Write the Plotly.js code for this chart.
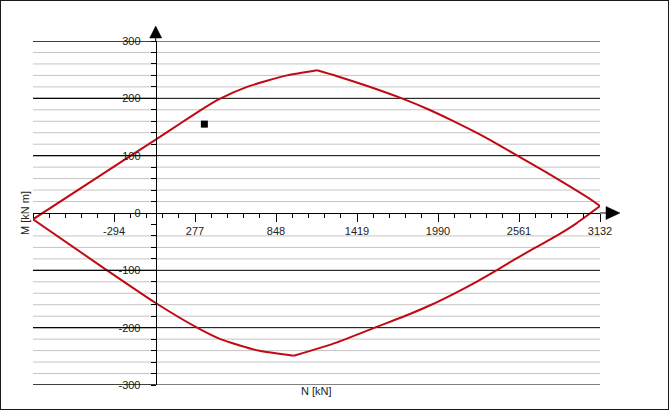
<!DOCTYPE html>
<html><head><meta charset="utf-8">
<script src="https://cdn.plot.ly/plotly-3.0.1.min.js"></script>
<style>
html,body{margin:0;padding:0;background:#fff;}
#chart{position:absolute;left:0;top:0;width:672px;height:411px;}
#frame{position:absolute;left:0;top:0;width:669px;height:410px;box-sizing:border-box;border:1px solid #1a1a1a;pointer-events:none;}
</style>
</head><body>
<div id="chart"></div><div id="frame"></div>
<script>
// ---- data ----
const xRange = [-865, 3132];
const xTickVals = [-294, 277, 848, 1419, 1990, 2561, 3132];
const xMinorStep = 114.2;
const yRange = [-300, 300];
const yTickVals = [-300, -200, -100, 0, 100, 200, 300];
const yMinorStep = 20;
const yHiddenMinor = [-20];

// interaction diagram, four smooth segments between the corner points
// upper-left: left tip -> top corner
const upperLeftN = [-865, -400, 0, 197, 315, 444, 644, 926, 1138];
const upperLeftM = [-11, 64, 128, 160, 179, 198, 220, 240, 249];
// upper-right: top corner -> right tip
const upperRightN = [1138, 1274, 1497, 1744, 1920, 2084, 2261, 2402, 2543, 2684, 2813, 2942, 3083, 3132];
const upperRightM = [249, 239, 221, 199, 181, 162, 140, 121, 101, 81, 62, 43, 21, 12];
// lower-right: right tip -> bottom corner
const lowerRightN = [3132, 2966, 2825, 2672, 2531, 2402, 2261, 2108, 1943, 1744, 1544, 1274, 973];
const lowerRightM = [12, -18, -40, -61, -81, -100, -120, -140, -160, -181, -200, -226, -249];
// lower-left: bottom corner -> left tip
const lowerLeftN = [973, 724, 456, 292, 0, -343, -865];
const lowerLeftM = [-249, -240, -220, -200, -157, -100, -11];
// load point
const loadN = [343];
const loadM = [155];

// ---- chart ----
const font = 'Liberation Sans, Arial, sans-serif';
const txt = '#222';
const red = '#c00a14';

const xZero = (0 - xRange[0]) / (xRange[1] - xRange[0]);
const yZero = (0 - yRange[0]) / (yRange[1] - yRange[0]);

const shapes = [];
for (let v = yRange[0]; v <= yRange[1]; v += yMinorStep) {
  const isMajor = yTickVals.indexOf(v) >= 0;
  if (v === 0) continue;
  if (!isMajor && yHiddenMinor.indexOf(v) >= 0) continue;
  shapes.push({type:'line', xref:'paper', yref:'y', x0:0, x1:1, y0:v, y1:v, layer:'below',
    line:{color: isMajor ? '#000' : '#c4c4c4', width:1}});
  if (isMajor) {
    shapes.push({type:'line', xref:'paper', yref:'y', x0:0, x1:xZero, y0:v, y1:v, layer:'above',
      line:{color:'#000', width:1}});
  }
}
// axis arrows
shapes.push({type:'path', xref:'paper', yref:'paper', xsizemode:'pixel', ysizemode:'pixel',
  xanchor:xZero, yanchor:1, path:'M 0,0 L 0,4', line:{color:'#000', width:1}});
shapes.push({type:'path', xref:'paper', yref:'paper', xsizemode:'pixel', ysizemode:'pixel',
  xanchor:xZero, yanchor:1, path:'M -6,3 L 6,3 L 0,15 Z', fillcolor:'#000', line:{color:'#000', width:0.5}});
shapes.push({type:'path', xref:'paper', yref:'paper', xsizemode:'pixel', ysizemode:'pixel',
  xanchor:1, yanchor:yZero, path:'M 0,0 L 7,0', line:{color:'#000', width:1}});
shapes.push({type:'path', xref:'paper', yref:'paper', xsizemode:'pixel', ysizemode:'pixel',
  xanchor:1, yanchor:yZero, path:'M 6,6.5 L 6,-6.5 L 20,0 Z', fillcolor:'#000', line:{color:'#000', width:0.5}});

function seg(xs, ys) {
  return {x: xs, y: ys, type:'scatter', mode:'lines', cliponaxis:false,
    line:{color:red, width:2, shape:'spline', smoothing:0.6}, hoverinfo:'skip'};
}
const traces = [
  seg(upperLeftN, upperLeftM),
  seg(upperRightN, upperRightM),
  seg(lowerRightN, lowerRightM),
  seg(lowerLeftN, lowerLeftM),
  {x: loadN, y: loadM, type:'scatter', mode:'markers', cliponaxis:false,
   marker:{symbol:'square', size:7, color:'#000'}, hoverinfo:'skip'}
];

const layout = {
  width:672, height:411,
  margin:{l:33, r:72, t:41, b:26, pad:0},
  paper_bgcolor:'#fff', plot_bgcolor:'#fff',
  showlegend:false, hovermode:false,
  font:{family:font, size:11, color:txt},
  xaxis:{range:xRange, tickmode:'array', tickvals:xTickVals, ticktext:xTickVals.map(String),
    showgrid:false, zeroline:false, showline:true, linecolor:'#000', linewidth:1,
    anchor:'free', position:yZero, automargin:false,
    ticks:'outside', ticklen:8, tickwidth:1, tickcolor:'#000',
    tickfont:{family:font, size:11, color:txt},
    minor:{tickmode:'linear', tick0:xRange[0], dtick:xMinorStep, ticks:'outside', ticklen:4, tickwidth:1, tickcolor:'#000', showgrid:false}},
  yaxis:{range:yRange, tickmode:'array', tickvals:yTickVals, ticktext:yTickVals.map(String),
    showgrid:false, zeroline:false, showline:true, linecolor:'#000', linewidth:1,
    anchor:'free', position:xZero, automargin:false,
    ticks:'outside', ticklen:5, tickwidth:1, tickcolor:'#000', ticklabelstandoff:8,
    tickfont:{family:font, size:11, color:txt},
    minor:{tickmode:'linear', tick0:yRange[0], dtick:yMinorStep, ticks:'outside', ticklen:5, tickwidth:1, tickcolor:'#000', showgrid:false}},
  shapes: shapes,
  annotations:[
    {text:'N [kN]', xref:'paper', yref:'paper', x:0.5, y:0, xanchor:'center', yanchor:'top', yshift:2,
     showarrow:false, font:{family:font, size:11, color:txt}},
    {text:'M [kN m]', xref:'paper', yref:'paper', x:0, y:0.5, xanchor:'center', yanchor:'middle', xshift:-8,
     textangle:-90, showarrow:false, font:{family:font, size:11, color:txt}}
  ]
};

Plotly.newPlot('chart', traces, layout, {displayModeBar:false, staticPlot:true});
</script>
</body></html>
